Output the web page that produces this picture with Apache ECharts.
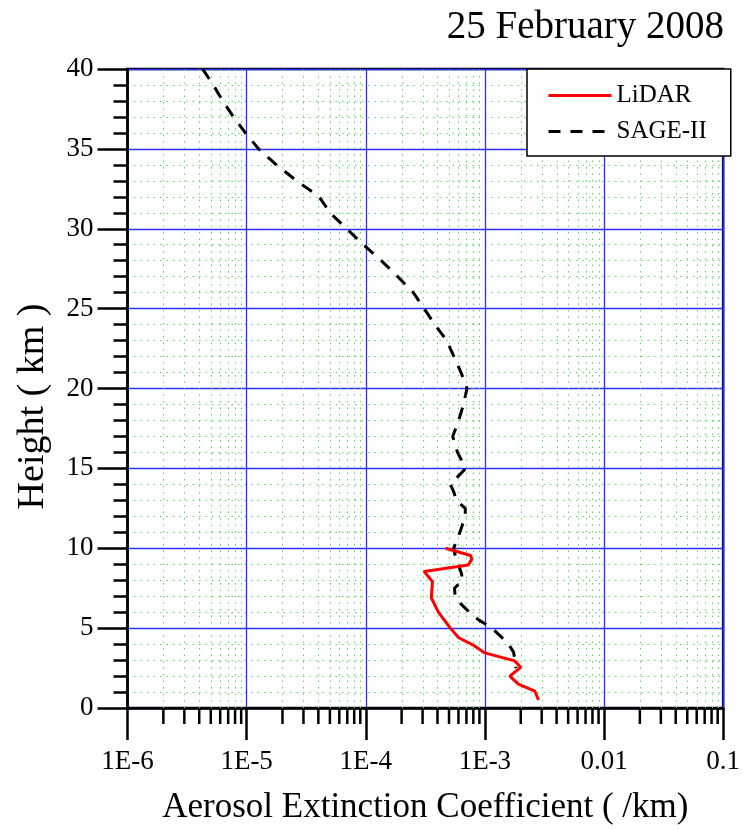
<!DOCTYPE html>
<html>
<head>
<meta charset="utf-8">
<script src="https://cdn.jsdelivr.net/npm/echarts@6/dist/echarts.min.js"></script>
<style>
html,body{margin:0;padding:0;background:#fff;}
#chart{width:743px;height:830px;}
</style>
</head>
<body>
<div id="chart"></div>
<script>
// ---- data ----
const chartTitle = '25 February 2008';
const xTitle = 'Aerosol Extinction Coefficient ( /km)';
const yTitle = 'Height ( km )';
const seriesNames = ['LiDAR', 'SAGE-II'];

const xDecades = [1e-6, 1e-5, 1e-4, 1e-3, 1e-2, 1e-1];
const xTickLabels = ['1E-6', '1E-5', '1E-4', '1E-3', '0.01', '0.1'];
const xMinorMultipliers = [2, 3, 4, 5, 6, 7, 8, 9];
const yTicks = [0, 5, 10, 15, 20, 25, 30, 35, 40];

const lidarHeight = [10.0, 9.55, 9.3, 8.95, 8.55, 7.9, 6.9, 6.0, 5.0, 4.4, 3.9, 3.45, 2.95, 2.55, 2.0, 1.5, 1.05, 0.5];
const lidarExt = [4.68e-4, 7.59e-4, 7.76e-4, 7.24e-4, 3.09e-4, 3.63e-4, 3.55e-4, 4.07e-4, 5.13e-4, 6.03e-4, 8.13e-4, 1.0e-3, 1.78e-3, 2.0e-3, 1.62e-3, 1.91e-3, 2.63e-3, 2.82e-3];

const sageHeight = [40, 39, 38, 37, 36, 35, 34, 33, 32, 31, 30, 29, 28, 27, 26, 25, 24, 23, 22, 21, 20, 19, 18, 17, 16, 15, 14, 13.5, 13, 12.5, 12, 11, 10, 9.5, 8.5, 8, 7.5, 7, 6.5, 6, 5.5, 5, 4.5, 4, 3.5, 3, 2.5];
const sageExt = [4.27e-6, 5.25e-6, 6.31e-6, 7.76e-6, 9.77e-6, 1.26e-5, 1.78e-5, 2.63e-5, 4.07e-5, 5.01e-5, 6.92e-5, 9.55e-5, 1.35e-4, 1.86e-4, 2.51e-4, 3.09e-4, 3.80e-4, 4.79e-4, 5.50e-4, 6.31e-4, 7.08e-4, 6.61e-4, 6.03e-4, 5.37e-4, 5.89e-4, 6.92e-4, 5.13e-4, 5.50e-4, 5.75e-4, 6.85e-4, 6.84e-4, 6.17e-4, 5.47e-4, 5.65e-4, 6.31e-4, 6.55e-4, 5.56e-4, 5.62e-4, 6.31e-4, 7.41e-4, 8.91e-4, 1.15e-3, 1.35e-3, 1.58e-3, 1.74e-3, 1.79e-3, 1.82e-3];

// ---- build ----
const FONT = '"Liberation Serif", "Times New Roman", serif';
const MINOR_GREEN = '#55e055';
const xMinor = [];
xDecades.slice(0, -1).forEach(d => xMinorMultipliers.forEach(m => xMinor.push([d * m, 0])));

const lidarData = lidarHeight.map((h, i) => [lidarExt[i], h]);
const sageData = sageHeight.map((h, i) => [sageExt[i], h]);

const chart = echarts.init(document.getElementById('chart'), null, {renderer: 'canvas'});
chart.setOption({
  animation: false,
  backgroundColor: '#fff',
  title: {
    text: chartTitle,
    right: 14, top: 3,
    textStyle: {fontFamily: FONT, fontSize: 39, fontWeight: 'normal', color: '#000'}
  },
  legend: {
    data: seriesNames,
    orient: 'vertical',
    left: 527, top: 69,
    backgroundColor: '#fff',
    borderColor: '#000', borderWidth: 1.5, borderRadius: 0,
    padding: [14, 24, 12, 20],
    itemWidth: 63, itemHeight: 14, itemGap: 11,
    itemStyle: {opacity: 0},
    lineStyle: {width: 3},
    textStyle: {fontFamily: FONT, fontSize: 25, color: '#000', lineHeight: 24}
  },
  grid: {
    left: 127.5, right: 17.5, top: 69, bottom: 119,
    show: true, borderColor: '#000', borderWidth: 2.5, backgroundColor: 'transparent'
  },
  xAxis: {
    type: 'log', logBase: 10, min: xDecades[0], max: xDecades[xDecades.length - 1],
    splitNumber: 5,
    name: xTitle, nameLocation: 'middle', nameGap: 82,
    nameTextStyle: {fontFamily: FONT, fontSize: 35, color: '#000'},
    axisLine: {lineStyle: {color: '#000', width: 2.5}},
    axisTick: {show: true, inside: false, length: 32, lineStyle: {color: '#000', width: 2.5}},
    axisLabel: {
      margin: 40, fontFamily: FONT, fontSize: 27, color: '#000',
      formatter: v => {
        const i = Math.round(Math.log10(v)) + 6;
        return xTickLabels[i] !== undefined ? xTickLabels[i] : '';
      }
    },
    splitLine: {show: true, lineStyle: {color: '#2d2dff', width: 1.3}}
  },
  yAxis: {
    type: 'value', min: yTicks[0], max: yTicks[yTicks.length - 1], interval: 5,
    name: yTitle, nameLocation: 'middle', nameGap: 75,
    nameTextStyle: {fontFamily: FONT, fontSize: 38, color: '#000', padding: [0, 36, 0, 0]},
    axisLine: {lineStyle: {color: '#000', width: 2.5}},
    axisTick: {show: true, inside: false, length: 30, lineStyle: {color: '#000', width: 2.5}},
    minorTick: {show: true, splitNumber: 5, length: 14, lineStyle: {color: '#000', width: 2.5}},
    axisLabel: {margin: 34, fontFamily: FONT, fontSize: 27, color: '#000'},
    splitLine: {show: true, lineStyle: {color: '#2d2dff', width: 1.3}},
    minorSplitLine: {show: true, lineStyle: {color: MINOR_GREEN, width: 1, type: [1.5, 5]}}
  },
  series: [
    {
      type: 'custom', name: 'minorX', silent: true, clip: false, z: 1,
      data: xMinor,
      encode: {x: 0, y: 1},
      renderItem: (params, api) => {
        const v = api.value(0);
        const p0 = api.coord([v, yTicks[0]]);
        const p1 = api.coord([v, yTicks[yTicks.length - 1]]);
        const x = Math.round(p0[0]) + 0.5;
        return {
          type: 'group',
          children: [
            {type: 'line', shape: {x1: x, y1: p0[1], x2: x, y2: p1[1]},
             style: {stroke: MINOR_GREEN, lineWidth: 1, lineDash: [1.5, 5]}},
            {type: 'line', shape: {x1: p0[0], y1: p0[1], x2: p0[0], y2: p0[1] + 16},
             style: {stroke: '#000', lineWidth: 2.5}}
          ]
        };
      }
    },
    {
      name: seriesNames[0], type: 'line', data: lidarData, symbol: 'none', z: 4,
      lineStyle: {color: '#ff0000', width: 3}, itemStyle: {color: '#ff0000'}
    },
    {
      name: seriesNames[1], type: 'line', data: sageData, symbol: 'none', z: 3,
      lineStyle: {color: '#000', width: 3, type: [12, 10]}, itemStyle: {color: '#000'}
    }
  ]
});
</script>
</body>
</html>
